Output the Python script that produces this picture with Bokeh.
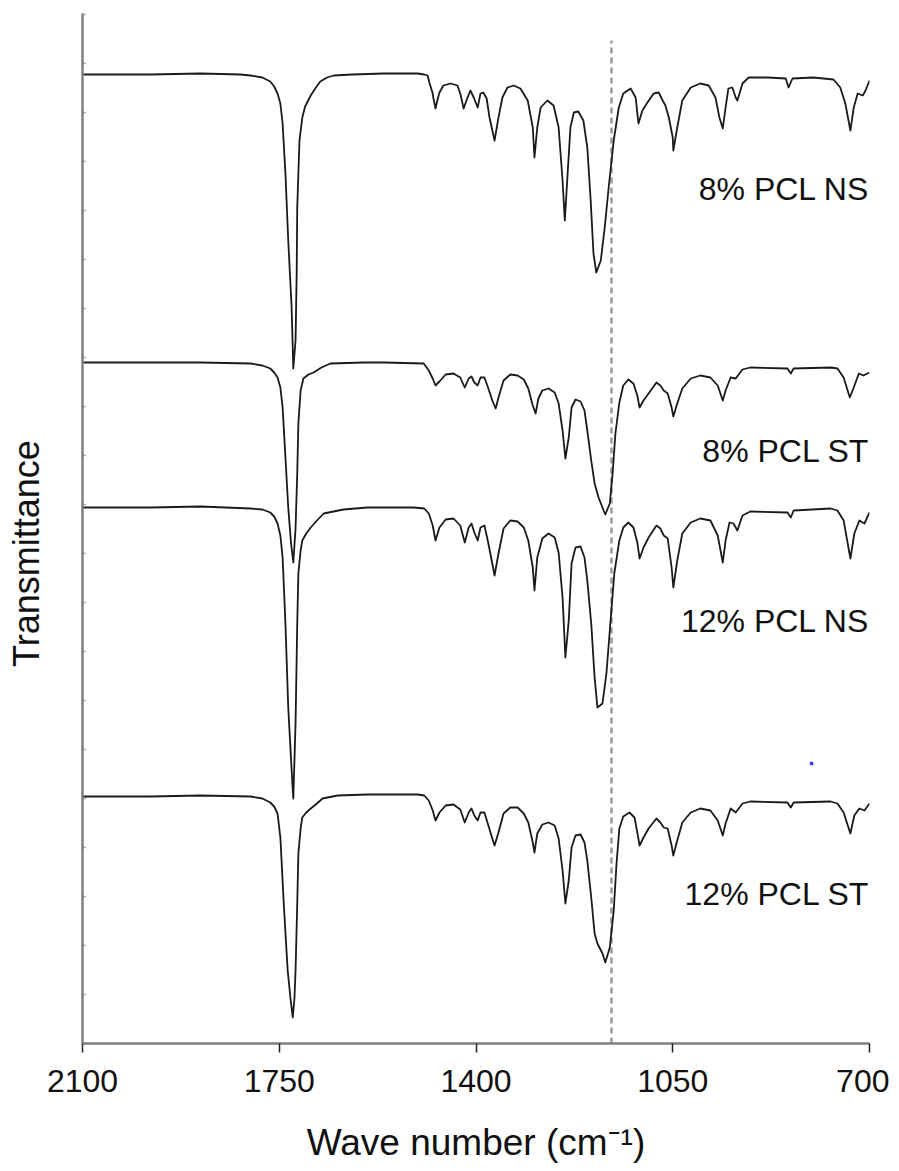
from bokeh.plotting import figure
from bokeh.models import Range1d, FixedTicker, ColumnDataSource
from bokeh.core.properties import value
from bokeh.embed import file_html
from bokeh.resources import INLINE

# ---- data (wavenumber cm-1, transmittance a.u., stacked) ----
wn_8ns = [2100, 1979, 1890, 1819, 1801, 1780, 1766, 1759, 1753, 1748, 1744, 1739, 1734, 1728, 1725, 1721, 1719, 1718, 1714, 1709,
          1704, 1694, 1686, 1677, 1665, 1653, 1620, 1564, 1504, 1492,
          1486, 1483, 1477, 1476, 1472, 1468, 1465, 1458, 1445, 1433, 1428, 1422, 1415, 1410, 1404, 1397, 1392, 1387, 1381, 1376,
          1367, 1360, 1353, 1344, 1333, 1321, 1308, 1299, 1296, 1291, 1285, 1273, 1262, 1253, 1246, 1242, 1237, 1232, 1226, 1218,
          1209, 1202, 1196, 1191, 1186, 1178, 1171, 1164, 1155, 1146, 1138, 1125, 1116, 1111, 1104, 1095, 1084, 1075, 1068, 1063,
          1057, 1050, 1049, 1042, 1033, 1018, 1001, 986, 974, 967, 961, 956, 951, 944, 938, 935, 926, 915, 881, 849, 844, 837, 800,
          764, 752, 743, 734, 728, 721, 712, 707, 700]
t_8ns = [96.9, 96.9, 97.0, 96.9, 96.8, 96.6, 96.2, 95.7, 95.0, 94.0, 92.0, 87.0, 80.3, 73.6, 67.5, 70.3, 77.0, 83.6, 90.3, 92.6,
         93.7, 94.8, 95.5, 96.2, 96.6, 96.8, 96.9, 97.0, 97.0, 96.9,
         96.8, 96.1, 95.0, 94.6, 93.5, 94.5, 95.1, 95.8, 96.0, 95.8, 95.0, 93.5, 94.6, 95.3, 94.6, 93.6, 95.0, 95.1, 94.5, 92.6,
         90.3, 92.6, 94.6, 95.6, 95.8, 95.5, 94.3, 91.6, 88.6, 91.6, 93.6, 94.3, 93.8, 91.6, 86.3, 82.3, 87.0, 91.6, 93.1, 93.2,
         92.3, 89.6, 84.3, 79.0, 77.1, 78.3, 81.6, 85.6, 90.3, 93.6, 95.0, 95.5, 94.6, 92.0, 93.3, 94.1, 95.0, 95.1, 94.3, 93.8,
         92.6, 90.6, 89.3, 91.6, 94.3, 95.6, 96.0, 95.8, 94.6, 92.6, 91.5, 93.6, 95.5, 95.6, 94.6, 94.3, 96.0, 96.6, 96.6, 96.5,
         95.6, 96.5, 96.6, 96.4, 95.6, 94.0, 91.3, 93.6, 95.0, 94.8, 95.3, 96.3]

wn_8st = [2100, 1979, 1890, 1801, 1780, 1766, 1759, 1753, 1748, 1744, 1739, 1734, 1729, 1725, 1721, 1718, 1716, 1712, 1707, 1698,
          1689, 1675, 1659, 1600, 1564, 1493,
          1484, 1477, 1472, 1465, 1454, 1440, 1428, 1420, 1413, 1408, 1403, 1397, 1392, 1385, 1378, 1371, 1365, 1360, 1351, 1339,
          1326, 1315, 1307, 1299, 1294, 1289, 1282, 1271, 1260, 1253, 1246, 1241, 1235, 1230, 1223, 1214, 1207, 1202, 1195, 1189,
          1182, 1173, 1170, 1162, 1157, 1152, 1145, 1138, 1129, 1120, 1113, 1109, 1102, 1093, 1079, 1072, 1066, 1059, 1052, 1049,
          1042, 1033, 1018, 1001, 983, 970, 961, 956, 947, 938, 926, 912, 846, 840, 835, 769, 757, 746, 735, 728, 719, 711, 700]
t_8st = [68.1, 68.1, 68.1, 68.0, 67.8, 67.5, 67.1, 66.6, 65.6, 63.6, 58.6, 53.6, 50.0, 48.1, 51.5, 57.0, 62.0, 65.3, 66.5, 66.9,
         67.1, 67.6, 68.0, 68.1, 68.1, 68.0,
         67.3, 66.5, 65.8, 66.2, 66.9, 67.0, 66.6, 65.6, 66.5, 66.7, 66.1, 65.8, 66.6, 66.6, 65.5, 64.3, 63.5, 64.6, 66.3, 66.9,
         66.8, 66.4, 65.5, 63.8, 63.0, 64.5, 65.3, 65.5, 65.1, 64.0, 61.3, 58.5, 60.6, 63.6, 64.4, 64.2, 63.3, 61.3, 58.3, 56.0,
         54.6, 53.3, 52.9, 54.0, 57.0, 61.0, 64.1, 65.8, 66.4, 66.0, 64.8, 63.6, 64.3, 65.0, 66.1, 65.8, 65.3, 65.0, 63.6, 62.7,
         64.0, 65.5, 66.5, 66.8, 66.6, 65.8, 64.3, 65.3, 66.6, 66.5, 67.4, 67.6, 67.5, 67.0, 67.5, 67.6, 67.5, 66.6, 64.6, 65.6,
         67.0, 66.8, 67.1]

wn_12ns = [2100, 1979, 1890, 1801, 1780, 1766, 1759, 1753, 1748, 1744, 1739, 1734, 1726, 1725, 1721, 1718, 1716, 1712, 1709, 1702,
           1694, 1683, 1671, 1636, 1593, 1511, 1492,
           1484, 1477, 1472, 1465, 1454, 1440, 1428, 1420, 1413, 1408, 1403, 1397, 1392, 1385, 1378, 1371, 1367, 1360, 1351, 1339,
           1326, 1315, 1307, 1299, 1296, 1291, 1282, 1271, 1260, 1253, 1246, 1241, 1235, 1230, 1223, 1214, 1207, 1202, 1195, 1189,
           1184, 1175, 1168, 1161, 1154, 1145, 1138, 1129, 1120, 1113, 1109, 1102, 1093, 1079, 1072, 1066, 1059, 1052, 1049, 1042,
           1033, 1018, 1001, 983, 970, 961, 956, 949, 942, 935, 926, 912, 846, 840, 835, 769, 757, 746, 734, 727, 718, 709, 700]
t_12ns = [53.6, 53.6, 53.7, 53.5, 53.4, 53.1, 52.7, 52.0, 50.8, 48.6, 42.0, 33.6, 25.3, 24.5, 32.0, 42.0, 47.0, 49.3, 50.3, 51.0,
          51.6, 52.3, 53.0, 53.4, 53.6, 53.6, 53.5,
          53.0, 51.8, 50.3, 51.6, 52.4, 52.5, 51.8, 50.1, 51.6, 52.0, 51.1, 50.3, 51.6, 51.8, 50.0, 48.0, 46.8, 49.0, 51.5, 52.3,
          52.2, 51.6, 50.3, 47.6, 45.3, 48.6, 50.5, 51.0, 50.6, 49.1, 44.6, 38.6, 42.3, 48.0, 49.6, 49.7, 48.6, 46.3, 42.0, 36.6,
          33.6, 34.0, 37.0, 42.0, 47.0, 50.3, 51.6, 52.1, 51.6, 50.1, 48.5, 49.6, 50.6, 51.8, 51.5, 50.8, 50.5, 47.6, 45.6, 48.3,
          51.0, 52.1, 52.5, 52.3, 50.8, 48.1, 50.3, 52.1, 52.0, 51.3, 52.8, 53.2, 53.1, 52.6, 53.3, 53.5, 53.3, 52.3, 48.5, 51.0,
          52.3, 52.0, 53.1]

wn_12st = [2100, 1979, 1890, 1801, 1780, 1766, 1759, 1753, 1748, 1742, 1735, 1730, 1726, 1723, 1721, 1718, 1716, 1712, 1709, 1702,
           1694, 1683, 1673, 1646, 1593, 1504, 1492,
           1484, 1477, 1472, 1465, 1454, 1440, 1428, 1420, 1413, 1408, 1403, 1397, 1392, 1385, 1378, 1371, 1367, 1360, 1351, 1339,
           1326, 1315, 1307, 1299, 1296, 1291, 1282, 1271, 1260, 1253, 1246, 1241, 1235, 1230, 1223, 1214, 1207, 1202, 1195, 1189,
           1184, 1175, 1170, 1162, 1155, 1150, 1145, 1138, 1127, 1118, 1113, 1109, 1102, 1093, 1079, 1072, 1066, 1059, 1052, 1049,
           1042, 1033, 1018, 1001, 983, 970, 961, 956, 947, 938, 926, 912, 846, 840, 835, 769, 757, 746, 734, 727, 718, 709, 700]
t_12st = [24.7, 24.7, 24.8, 24.7, 24.5, 24.1, 23.7, 23.0, 20.6, 14.0, 7.3, 4.5, 2.6, 4.5, 7.3, 14.0, 19.0, 21.5, 22.6, 23.1,
          23.5, 24.0, 24.5, 24.8, 24.9, 24.9, 24.8,
          24.3, 23.3, 22.3, 23.1, 23.8, 23.9, 23.4, 22.1, 23.1, 23.5, 22.8, 22.3, 23.1, 23.1, 21.8, 20.5, 19.8, 21.1, 23.0, 23.6,
          23.6, 23.0, 22.1, 20.1, 19.1, 21.0, 21.9, 22.1, 21.8, 20.5, 17.3, 14.0, 16.3, 19.6, 20.8, 20.9, 20.1, 18.3, 14.6, 11.0,
          10.0, 9.0, 8.1, 9.6, 13.3, 18.0, 21.5, 22.7, 23.1, 22.6, 21.1, 19.8, 20.6, 21.5, 22.5, 22.1, 21.6, 21.5, 19.8, 18.8,
          20.3, 22.1, 23.1, 23.5, 23.3, 22.3, 20.8, 22.0, 23.5, 23.1, 24.0, 24.2, 24.1, 23.6, 24.1, 24.2, 24.0, 23.1, 21.0, 22.8,
          23.5, 23.3, 24.0]

series_labels = ["8% PCL NS", "8% PCL ST", "12% PCL NS", "12% PCL ST"]
label_x = [700, 700, 700, 700]
label_y = [85.5, 59.3, 42.3, 15.0]

ref_wn = [1159]
ref_top = [100.3]

stray_wn = [803]
stray_t = [28.0]

x_ticks = [2100, 1750, 1400, 1050, 700]
y_ticks = [round(i * 4.9, 2) for i in range(22)]

# ---- figure ----
p = figure(frame_width=787, frame_height=1030, min_border_left=82, min_border_right=20,
           min_border_top=13, min_border_bottom=120,
           x_range=Range1d(2100, 700), y_range=Range1d(0, 103),
           output_backend="svg", toolbar_location=None, tools="")
p.outline_line_color = None
p.grid.visible = False
p.background_fill_color = "white"
p.border_fill_color = "white"

font = "Liberation Sans"

# x axis
xa = p.xaxis[0]
xa.ticker = FixedTicker(ticks=x_ticks)
xa.axis_line_color = "#7f7f7f"
xa.axis_line_width = 2.5
xa.major_tick_line_color = "#222222"
xa.major_tick_line_width = 1.5
xa.major_tick_out = 9
xa.major_tick_in = 0
xa.minor_tick_line_color = None
xa.major_label_text_font = font
xa.major_label_text_font_size = "32px"
xa.major_label_text_color = "#111111"
xa.major_label_standoff = 17
xa.axis_label = "Wave number (cm⁻¹)"
xa.axis_label_text_font = font
xa.axis_label_text_font_size = "37px"
xa.axis_label_text_font_style = "normal"
xa.axis_label_text_color = "#111111"
xa.axis_label_standoff = 27

# y axis (ticks drawn as small marks on the axis line, no labels)
ya = p.yaxis[0]
ya.ticker = FixedTicker(ticks=[])
ya.axis_line_color = "#7f7f7f"
ya.axis_line_width = 2.5
ya.major_tick_out = 0
ya.major_tick_in = 0
ya.minor_tick_line_color = None
ya.axis_label = "Transmittance" + "\u00a0" * 5
ya.axis_label_text_font = font
ya.axis_label_text_font_size = "36px"
ya.axis_label_text_font_style = "normal"
ya.axis_label_text_color = "#111111"
ya.axis_label_standoff = 36

p.scatter([2100] * len(y_ticks), y_ticks, marker="dash", size=7, line_color="#b0b0b0",
          line_width=1.5)

# dashed reference line
p.segment(x0=ref_wn, y0=[0], x1=ref_wn, y1=ref_top, line_color="#9a9a9a",
          line_width=2.5, line_dash="6 4")

# spectra
for wn, t in [(wn_8ns, t_8ns), (wn_8st, t_8st), (wn_12ns, t_12ns), (wn_12st, t_12st)]:
    p.line(wn, t, line_color="#1a1a1a", line_width=1.8, line_join="round")

# stray dot
p.scatter(stray_wn, stray_t, size=2.5, marker="square", color="#2233ff")

# series labels
src = ColumnDataSource(dict(x=label_x, y=label_y, text=series_labels))
p.text(x="x", y="y", text="text", source=src, text_align="right", text_baseline="middle",
       text_font=value(font), text_font_size="32px", text_color="#111111")

open("out.html", "w").write(file_html(p, INLINE))
